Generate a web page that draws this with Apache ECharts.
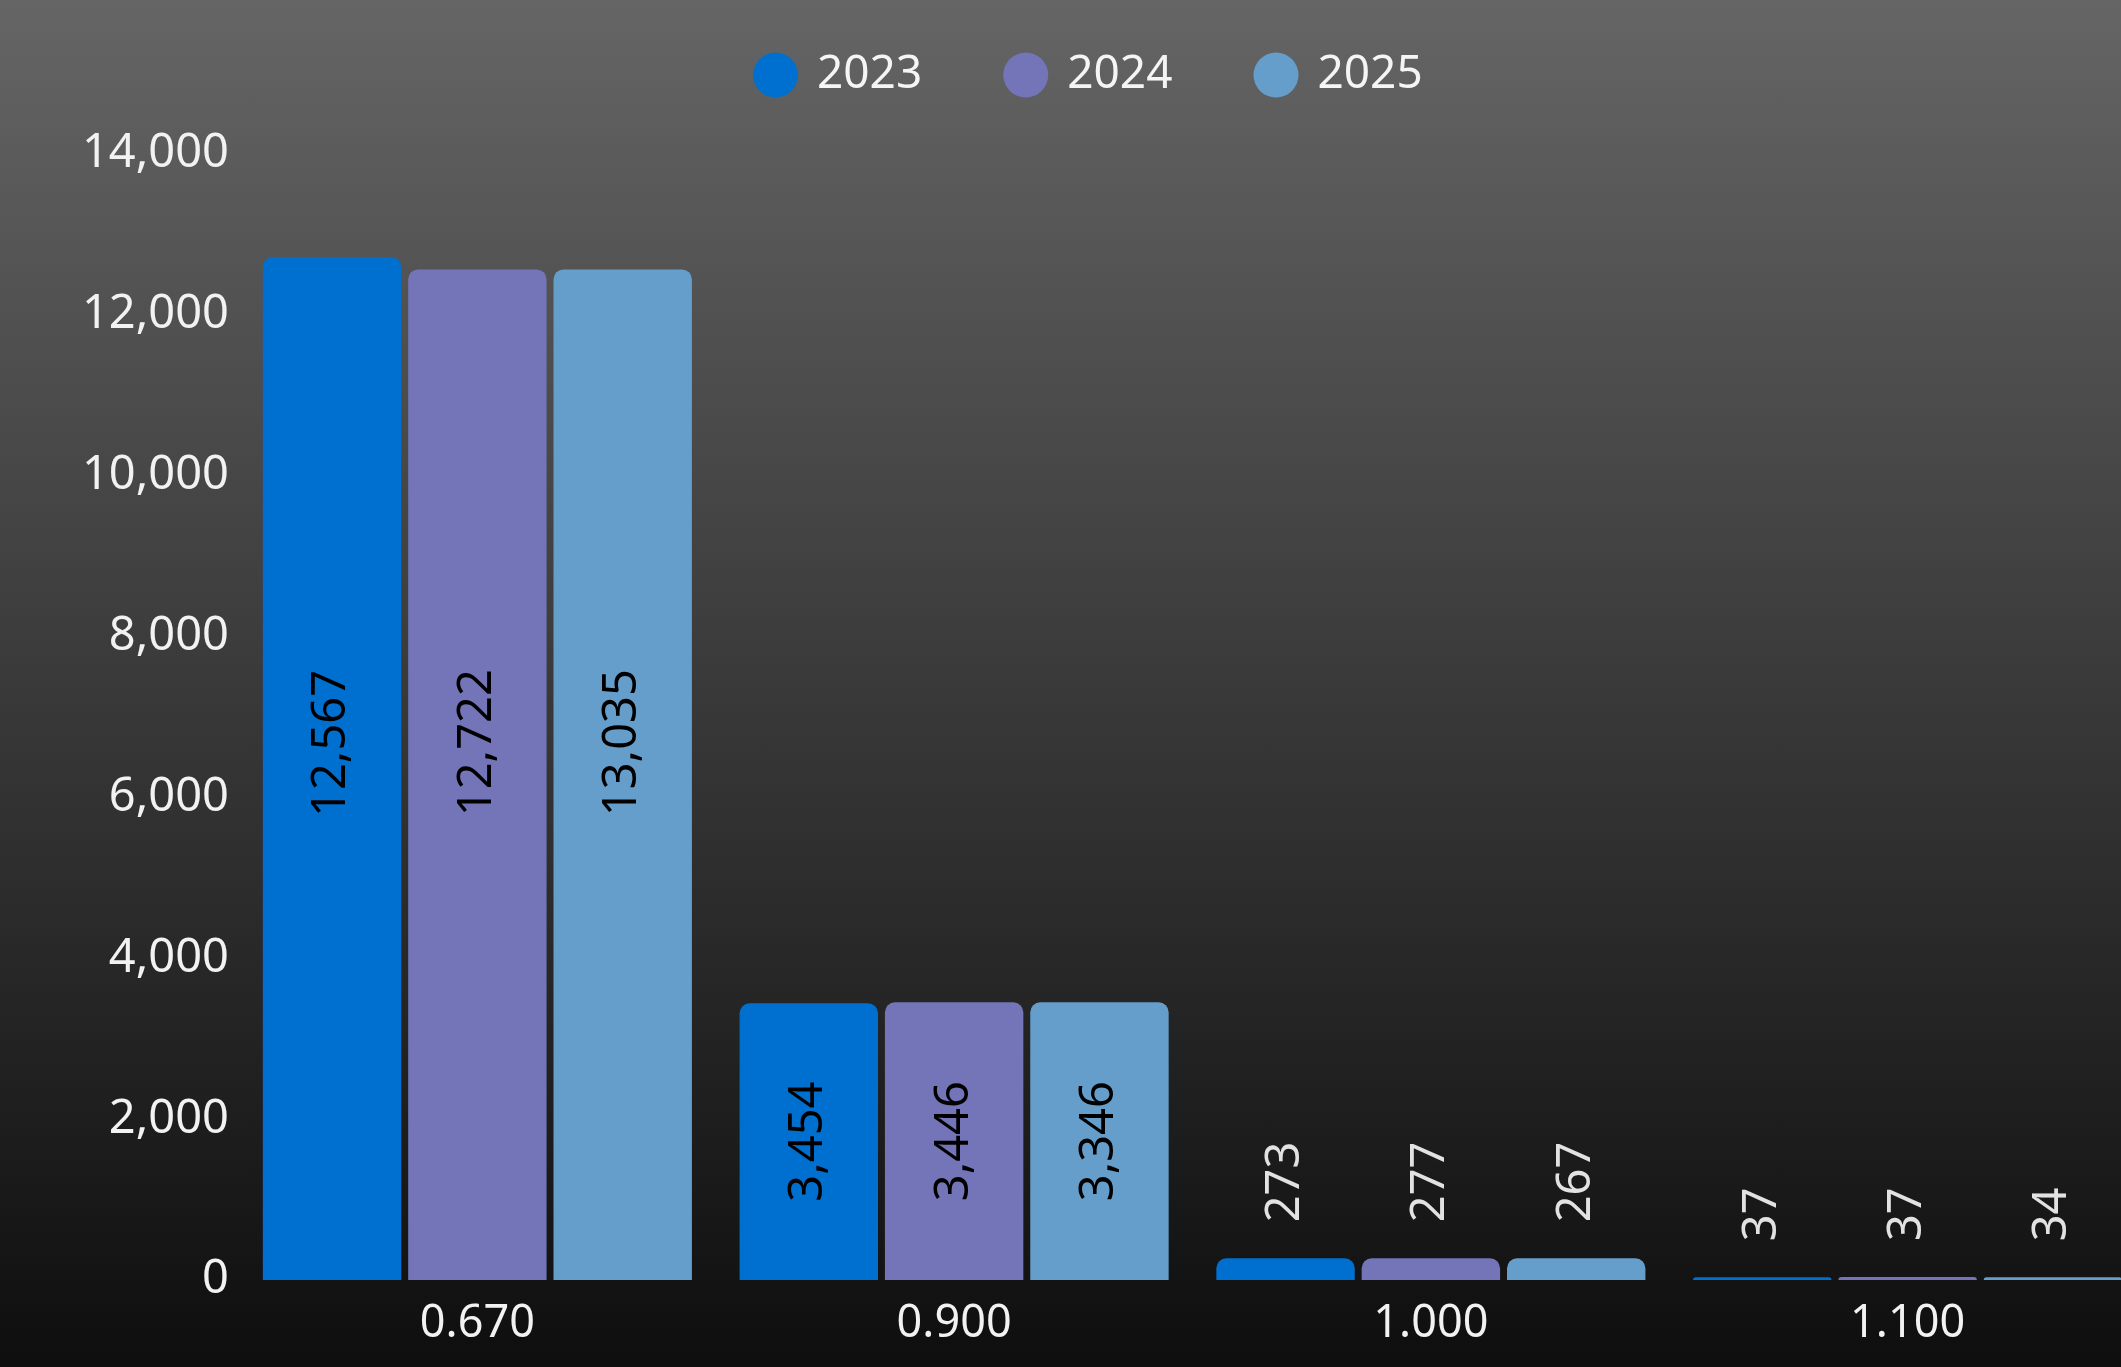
<!DOCTYPE html>
<html>
<head>
<meta charset="utf-8">
<script src="https://cdn.jsdelivr.net/npm/echarts@6/dist/echarts.min.js"></script>
<style>
  html, body { margin: 0; padding: 0; }
  #chart {
    width: 2121px;
    height: 1367px;
    background: linear-gradient(to bottom, #656565 0%, #0e0e0e 100%);
  }
</style>
</head>
<body>
<div id="chart"></div>
<script>
const categories = ['0.670', '0.900', '1.000', '1.100']
const years = ['2023', '2024', '2025']

// bar heights as drawn in the picture
const heights2023 = [12720, 3440, 270, 35]
const heights2024 = [12565, 3452, 271, 36]
const heights2025 = [12565, 3452, 270, 33]

// numbers printed on the bars
const labels2023 = [12567, 3454, 273, 37]
const labels2024 = [12722, 3446, 277, 37]
const labels2025 = [13035, 3346, 267, 34]

const yTicks = [0, 2000, 4000, 6000, 8000, 10000, 12000, 14000]
const colors = ['#0070d0', '#7474b8', '#669ecb']

const fmt = v => String(v).replace(/\B(?=(\d{3})+(?!\d))/g, ',')
const font = 'Noto Sans'

const makeSeries = (name, heights, labels, color, s) => ({
  name,
  type: 'bar',
  barGap: '5%',
  barCategoryGap: '10%',
  itemStyle: { color, borderRadius: [10, 10, 0, 0] },
  data: heights.map((h, i) => {
    const big = labels[i] >= 1000
    return {
      value: h,
      label: big
        ? {
            show: true,
            position: 'inside',
            rotate: 90,
            color: '#000',
            fontFamily: font,
            fontSize: 47,
            // rotated frame: +x moves the text up
            offset: i === 0 ? [s === 0 ? 25 : 32, 0] : [0, 0],
            formatter: () => fmt(labels[i]),
          }
        : {
            show: true,
            position: 'top',
            rotate: 90,
            align: 'left',
            verticalAlign: 'middle',
            distance: 36,
            color: '#e2e2e2',
            fontFamily: font,
            fontSize: 47,
            formatter: () => fmt(labels[i]),
          },
    }
  }),
})

const chart = echarts.init(document.getElementById('chart'), null, { renderer: 'canvas' })
chart.setOption({
  animation: false,
  backgroundColor: 'transparent',
  legend: {
    data: years,
    left: 748,
    top: 47,
    icon: 'circle',
    itemWidth: 45,
    itemHeight: 45,
    itemGap: 81,
    textStyle: {
      color: '#f5f5f5',
      fontFamily: font,
      fontSize: 46,
      padding: [0, 0, 0, 14],
    },
  },
  // last bar runs off the right edge, so let the grid overflow
  grid: { left: 239, width: 1907, top: 154, bottom: 87, containLabel: false, outerBoundsMode: 'none' },
  xAxis: {
    type: 'category',
    data: categories,
    axisLine: { show: false },
    axisTick: { show: false },
    axisLabel: { color: '#f2f2f2', fontFamily: font, fontSize: 45, margin: 22 },
  },
  yAxis: {
    type: 'value',
    min: yTicks[0],
    max: yTicks[yTicks.length - 1],
    interval: yTicks[1] - yTicks[0],
    splitLine: { show: false },
    axisLine: { show: false },
    axisTick: { show: false },
    axisLabel: { color: '#f2f2f2', fontFamily: font, fontSize: 47, margin: 10, formatter: v => fmt(v) },
  },
  series: [
    makeSeries(years[0], heights2023, labels2023, colors[0], 0),
    makeSeries(years[1], heights2024, labels2024, colors[1], 1),
    makeSeries(years[2], heights2025, labels2025, colors[2], 2),
  ],
})
</script>
</body>
</html>
